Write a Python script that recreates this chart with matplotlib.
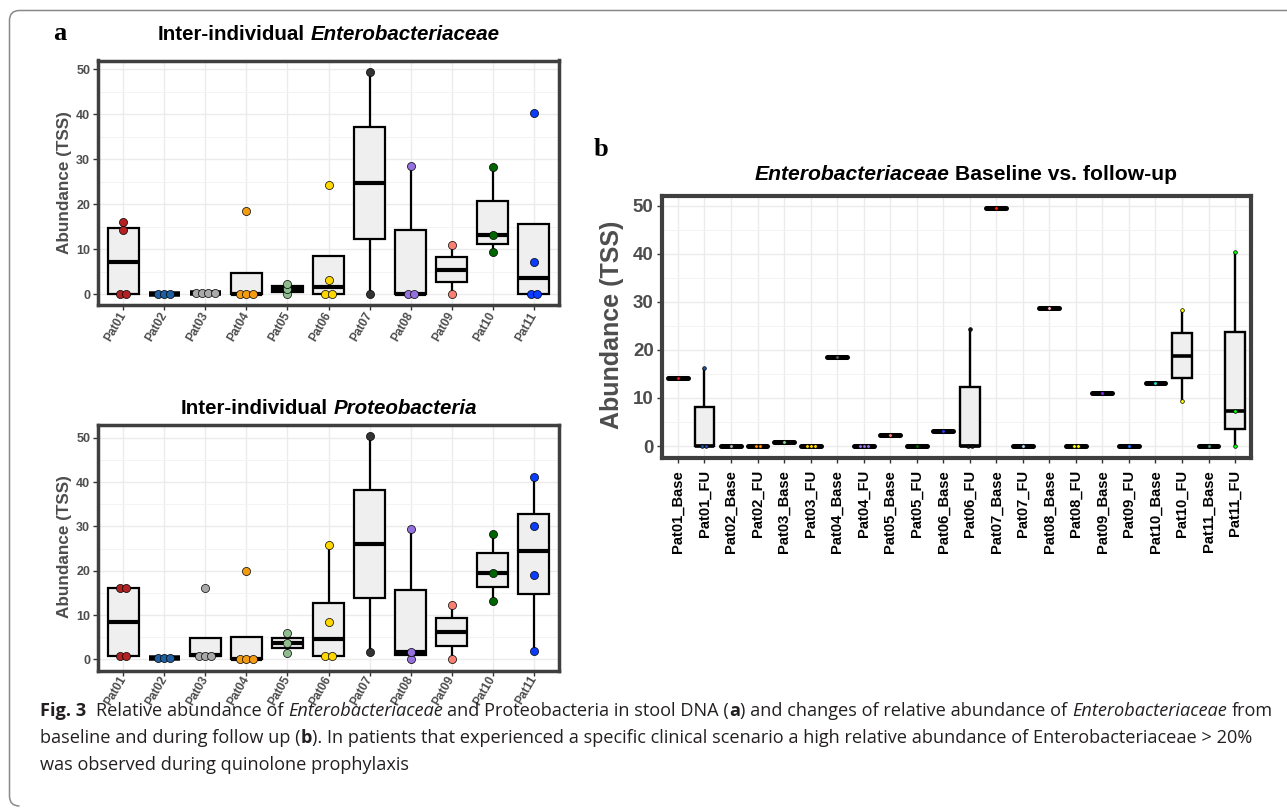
import numpy as np
import matplotlib
matplotlib.use("Agg")
import matplotlib.pyplot as plt
from matplotlib.patches import Rectangle, PathPatch
from matplotlib.path import Path

# ---------------- data ----------------
pat_labels = ['Pat01', 'Pat02', 'Pat03', 'Pat04', 'Pat05', 'Pat06',
              'Pat07', 'Pat08', 'Pat09', 'Pat10', 'Pat11']
pat_colors = ['#B22222', '#1F5FA0', '#A9A9A9', '#F39C12', '#8FBC8F', '#FFD700',
              '#333333', '#9370DB', '#FA8072', '#006400', '#0A3CFF']

entero_vals = [[16.0, 14.2, 0, 0], [0, 0, 0], [0.3, 0.3, 0.3, 0.3], [18.6, 0, 0, 0],
               [2.3, 1.2, 0], [24.4, 3.2, 0, 0], [49.5, 0], [28.6, 0, 0],
               [11.0, 0], [28.2, 13.2, 9.4], [40.3, 7.3, 0, 0]]

proteo_vals = [[16.0, 16.0, 0.8, 0.8], [0.4, 0.4, 0.4], [16.2, 1.1, 0.8, 0.6],
               [19.9, 0, 0, 0], [5.9, 3.7, 1.5], [25.8, 8.4, 0.8, 0.8], [50.5, 1.6],
               [29.4, 1.75, 0], [12.3, 0], [28.2, 19.6, 13.2], [41.1, 30.1, 19.0, 1.8]]

b_labels = ['Pat01_Base', 'Pat01_FU', 'Pat02_Base', 'Pat02_FU', 'Pat03_Base', 'Pat03_FU',
            'Pat04_Base', 'Pat04_FU', 'Pat05_Base', 'Pat05_FU', 'Pat06_Base', 'Pat06_FU',
            'Pat07_Base', 'Pat07_FU', 'Pat08_Base', 'Pat08_FU', 'Pat09_Base', 'Pat09_FU',
            'Pat10_Base', 'Pat10_FU', 'Pat11_Base', 'Pat11_FU']
b_vals = [[14.2], [16.2, 0, 0], [0], [0, 0], [0.8], [0, 0, 0],
          [18.6], [0, 0, 0], [2.4], [0], [3.2], [24.4, 0, 0],
          [49.5], [0], [28.6], [0, 0], [11.1], [0],
          [13.2], [28.2, 9.4], [0], [40.3, 7.3, 0]]
b_colors = ['#E41A1C', '#1F4FA0', '#B0B0B0', '#FF8C00', '#90D090', '#FFD700',
            '#555555', '#9370DB', '#FA8072', '#006400', '#1E3CFF', '#111111',
            '#FF2000', '#ADD8E6', '#FFB6C1', '#FFFF00', '#7B2FE0', '#1E6FFF',
            '#20E0D0', '#FFFF00', '#4F8F7F', '#00FF00']

yticks = [0, 10, 20, 30, 40, 50]

title_a1 = [("Inter-individual ", dict(weight='bold')),
            ("Enterobacteriaceae", dict(weight='bold', style='italic'))]
title_a2 = [("Inter-individual ", dict(weight='bold')),
            ("Proteobacteria", dict(weight='bold', style='italic'))]
title_b = [("Enterobacteriaceae", dict(weight='bold', style='italic')),
           (" Baseline vs. follow-up", dict(weight='bold'))]
ylabel_text = "Abundance (TSS)"

cap_line1 = [("Fig. 3", dict(weight='bold')),
             ("  Relative abundance of ", {}),
             ("Enterobacteriaceae", dict(style='italic')),
             (" and Proteobacteria in stool DNA (", {}),
             ("a", dict(weight='bold')),
             (") and changes of relative abundance of ", {}),
             ("Enterobacteriaceae", dict(style='italic')),
             (" from", {})]
cap_line2 = [("baseline and during follow up (", {}),
             ("b", dict(weight='bold')),
             ("). In patients that experienced a specific clinical scenario a high relative "
              "abundance of Enterobacteriaceae > 20%", {})]
cap_line3 = [("was observed during quinolone prophylaxis", {})]

# ---------------- figure ----------------
W, H = 1287, 808
fig = plt.figure(figsize=(W / 100, H / 100), dpi=100)
fig.patch.set_facecolor('white')
renderer = fig.canvas.get_renderer()
SANS = ['Liberation Sans', 'Arial', 'DejaVu Sans']


def fx(x):
    return x / W


def fy(y):
    return 1 - y / H


def add_axes_px(l, t, r, b):
    return fig.add_axes([l / W, 1 - b / H, (r - l) / W, (b - t) / H])


def text_width(s, **kw):
    t = fig.text(0, 0, '|' + s + '|', **kw)
    w1 = t.get_window_extent(renderer).width
    t.set_text('||')
    w2 = t.get_window_extent(renderer).width
    t.remove()
    return w1 - w2


def rich(x_px, y_px, segs, base, center=False):
    widths = [text_width(s, **{**base, **kw}) for s, kw in segs]
    total = sum(widths)
    x = x_px - total / 2 if center else x_px
    for (s, kw), w in zip(segs, widths):
        stripped = s.lstrip(' ')
        lead = len(s) - len(stripped)
        off = text_width(' ' * lead, **{**base, **kw}) if lead else 0
        if stripped.strip():
            fig.text(fx(x + off), fy(y_px), stripped.rstrip(' '), ha='left', va='center',
                     **{**base, **kw})
        x += w
    return total


def dot_positions(vals, tol=1.0, step=0.15):
    v = sorted(vals)
    groups = []
    for val in v:
        if groups and abs(val - groups[-1][0]) <= tol:
            groups[-1].append(val)
        else:
            groups.append([val])
    xs, ys = [], []
    for g in groups:
        k = len(g)
        m = float(np.mean(g))
        for j in range(k):
            xs.append(step * (j - (k - 1) / 2))
            ys.append(m)
    return np.array(xs), np.array(ys)


def draw_boxes(ax, data, colors, width, box_lw, med_lw, whisk_lw, dot_s, dot_step, cap):
    for i, vals in enumerate(data):
        x = i + 1
        arr = np.array(vals, dtype=float)
        q1, med, q3 = np.percentile(arr, [25, 50, 75])
        iqr = q3 - q1
        lo_f, hi_f = q1 - 1.5 * iqr, q3 + 1.5 * iqr
        inside = arr[(arr >= lo_f) & (arr <= hi_f)]
        wlo, whi = inside.min(), inside.max()
        if iqr < 1e-9:
            ax.plot([x - width / 2, x + width / 2], [med, med], color='black',
                    lw=med_lw + box_lw * 0.6, solid_capstyle=cap, zorder=3)
        else:
            if whi > q3:
                ax.plot([x, x], [q3, whi], color='black', lw=whisk_lw, zorder=2,
                        solid_capstyle='butt')
            if wlo < q1:
                ax.plot([x, x], [wlo, q1], color='black', lw=whisk_lw, zorder=2,
                        solid_capstyle='butt')
            ax.add_patch(Rectangle((x - width / 2, q1), width, q3 - q1, facecolor='#EFEFEF',
                                   edgecolor='black', lw=box_lw, zorder=3))
            ax.plot([x - width / 2, x + width / 2], [med, med], color='black', lw=med_lw,
                    solid_capstyle='butt', zorder=4)
        dx, dy = dot_positions(vals, step=dot_step)
        ax.scatter(x + dx, dy, s=dot_s, color=colors[i], edgecolor='black',
                   linewidths=0.5, zorder=5)


def style_axes(ax, ncat, ylim, frame_lw, ytick_size, xlabels, xrot, xsize, xcolor, xpad):
    ax.set_xlim(0.4, ncat + 0.6)
    ax.set_ylim(*ylim)
    ax.set_yticks(yticks)
    ax.set_yticks([5, 15, 25, 35, 45], minor=True)
    ax.set_xticks(np.arange(1, ncat + 1))
    ax.set_axisbelow(True)
    ax.grid(which='major', color='#EBEBEB', lw=1.0)
    ax.grid(which='minor', axis='y', color='#F3F3F3', lw=0.7)
    for sp in ax.spines.values():
        sp.set_linewidth(frame_lw)
        sp.set_color('#3F3F3F')
    ax.tick_params(which='minor', length=0)
    ax.tick_params(which='major', length=3.5, width=1.0, color='#333333', pad=2.5)
    ax.tick_params(axis='x', which='major', pad=xpad)
    ax.set_yticklabels([str(t) for t in yticks], fontsize=ytick_size, fontweight='bold',
                       color='#4D4D4D', family=SANS)
    ax.set_xticklabels(xlabels, rotation=xrot, ha='right', va='center',
                       rotation_mode='anchor', fontsize=xsize, fontweight='bold',
                       color=xcolor, family=SANS)


# panel a top
ax1 = add_axes_px(98.5, 60.5, 558.5, 305.5)
draw_boxes(ax1, entero_vals, pat_colors, 0.75, 1.6, 3.0, 1.6, 34, 0.15, 'butt')
style_axes(ax1, 11, (-2.475, 51.975), 2.5, 9, pat_labels, 60, 8.6, '#4D4D4D', 2.0)

# panel a bottom
ax2 = add_axes_px(98.5, 424.5, 558.5, 670.5)
draw_boxes(ax2, proteo_vals, pat_colors, 0.75, 1.6, 3.0, 1.6, 34, 0.15, 'butt')
style_axes(ax2, 11, (-2.525, 53.03), 2.5, 9, pat_labels, 60, 8.6, '#4D4D4D', 1.0)

# panel b
ax3 = add_axes_px(662, 196, 1251, 458)
draw_boxes(ax3, b_vals, b_colors, 0.75, 1.7, 2.6, 1.7, 7, 0.15, 'round')
style_axes(ax3, 22, (-2.475, 51.975), 3.0, 13.5, b_labels, 90, 10.6, 'black', 5.0)

# y labels
fig.text(fx(65), fy(183), ylabel_text, rotation=90, ha='center', va='center', fontsize=12.3,
         fontweight='bold', color='#4D4D4D', family=SANS)
fig.text(fx(65), fy(547), ylabel_text, rotation=90, ha='center', va='center', fontsize=12.3,
         fontweight='bold', color='#4D4D4D', family=SANS)
fig.text(fx(612), fy(325), ylabel_text, rotation=90, ha='center', va='center', fontsize=18,
         fontweight='bold', color='#4D4D4D', family=SANS)

# titles
base_title = dict(fontsize=14.8, color='black', family=SANS)
rich(328.5, 35, title_a1, base_title, center=True)
rich(328.5, 408, title_a2, base_title, center=True)
base_title_b = dict(fontsize=15.2, color='black', family=SANS)
rich(966, 175, title_b, base_title_b, center=True)

# panel letters
fig.text(fx(60), fy(33), 'a', ha='center', va='center', fontsize=19, fontweight='bold',
         family=['Liberation Serif', 'DejaVu Serif'])
fig.text(fx(601), fy(150), 'b', ha='center', va='center', fontsize=19, fontweight='bold',
         family=['Liberation Serif', 'DejaVu Serif'])

# caption (fit width of first line)
cap_family = ['Liberation Sans Narrow', 'Open Sans', 'DejaVu Sans']
base_cap = dict(fontsize=10, color='#231F20', family=cap_family)
w_trial = sum(text_width(s, **{**base_cap, **kw}) for s, kw in cap_line1)
cap_size = 10 * 1235 / w_trial
base_cap['fontsize'] = cap_size
rich(40, 711, cap_line1, base_cap)
rich(40, 738, cap_line2, base_cap)
rich(40, 765, cap_line3, base_cap)

# rounded frame (top and left)
r = 10
verts = [(W + 5, 10.5), (9.5 + r, 10.5), (9.5, 10.5), (9.5, 10.5 + r), (9.5, 806 - r),
         (9.5, 806), (9.5 + r, 806)]
codes = [Path.MOVETO, Path.LINETO, Path.CURVE3, Path.CURVE3, Path.LINETO,
         Path.CURVE3, Path.CURVE3]
verts_f = [(fx(x), fy(y)) for x, y in verts]
fig.patches.append(PathPatch(Path(verts_f, codes), transform=fig.transFigure, fill=False,
                             edgecolor='#8A8A8A', lw=1.1))

fig.savefig('out.png', dpi=100, facecolor='white')
